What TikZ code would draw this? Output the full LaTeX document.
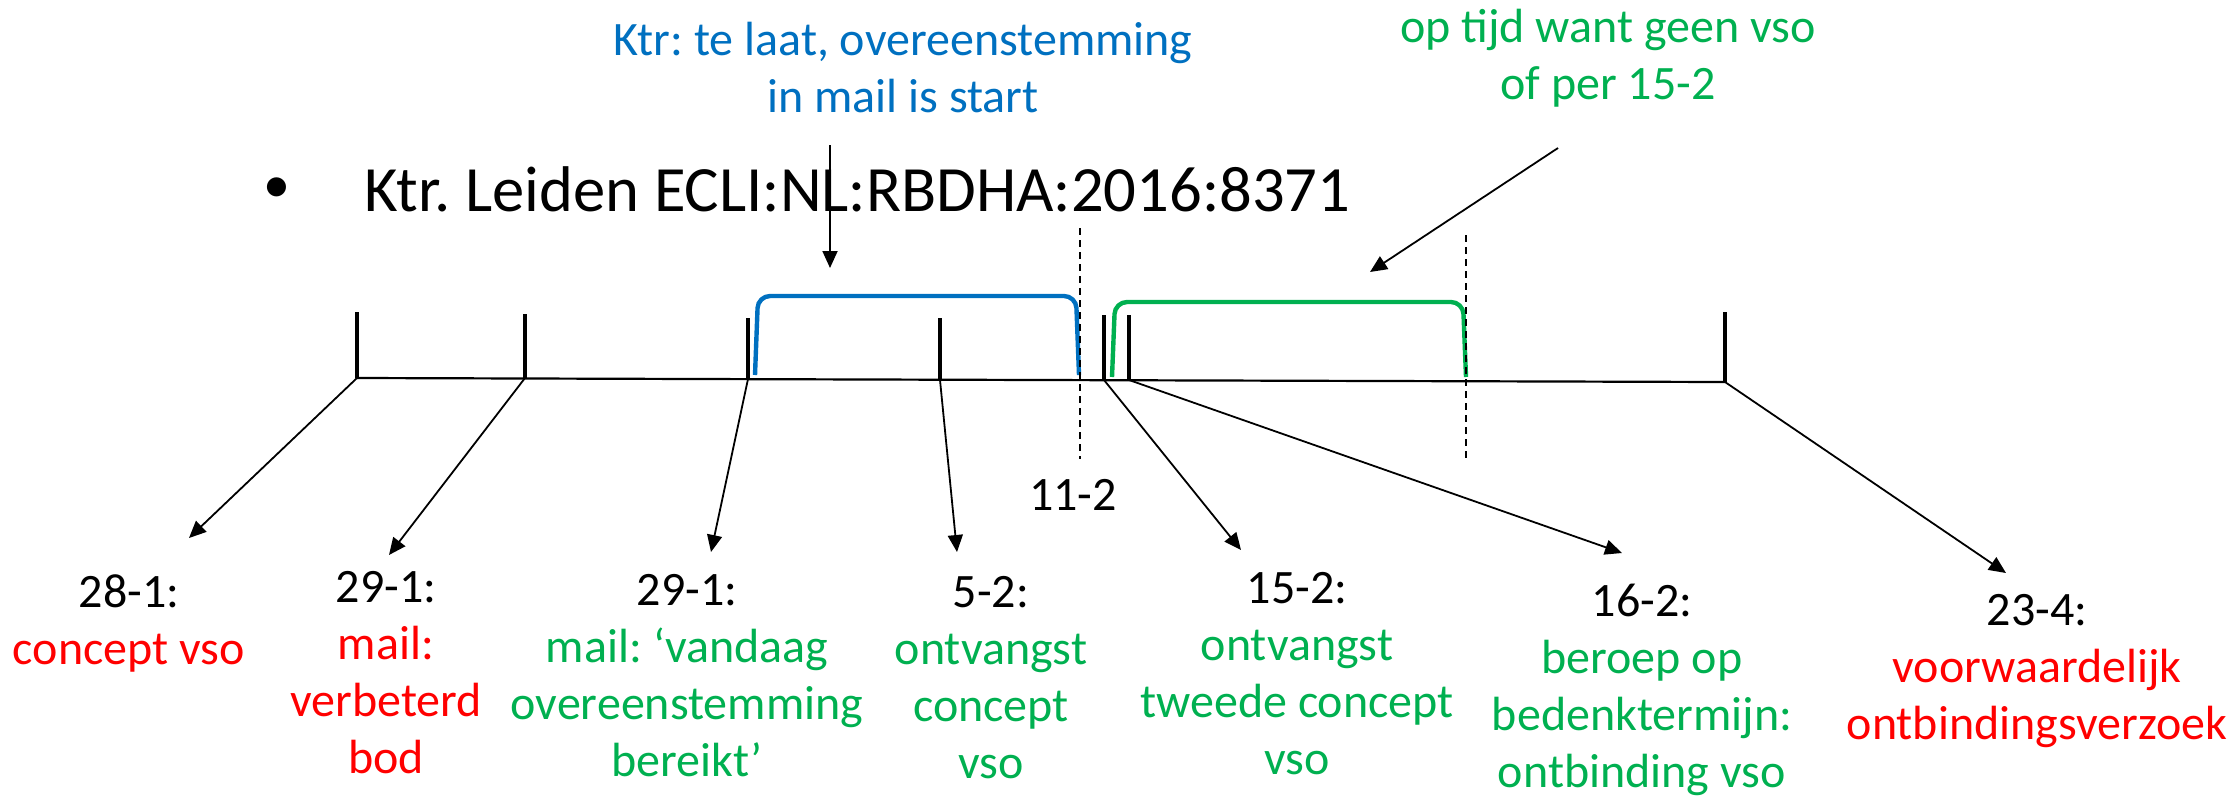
\documentclass[tikz,border=0pt]{standalone}
\usepackage{fontspec}
\setmainfont{Carlito}
\usetikzlibrary{arrows.meta}
\definecolor{cblue}{RGB}{0,112,192}
\definecolor{cgreen}{RGB}{0,176,80}
\definecolor{cred}{RGB}{255,0,0}
\newcommand\stk[1]{\begin{tabular}[t]{@{}c@{}}#1\end{tabular}}
\frenchspacing
\begin{document}
\begin{tikzpicture}[x=0.5pt,y=-0.5pt,
  lbl/.style={anchor=base, inner sep=0pt, font=\fontsize{24}{28.5}\selectfont},
  tickline/.style={line width=2pt, black},
  axis/.style={line width=1.1pt},
  conn/.style={line width=0.9pt, -{Triangle[length=8.5pt,width=7.5pt]}},
  brk/.style={line width=2.2pt, rounded corners=6pt},
  dsh/.style={line width=0.8pt, dash pattern=on 3.5pt off 2.5pt}]
\useasboundingbox (0,0) rectangle (2236,798);

% ticks
\coordinate (t1) at (357,378); \coordinate (u1) at (357,312);
\coordinate (t2) at (525,378); \coordinate (u2) at (525,314);
\coordinate (t3) at (748,379); \coordinate (u3) at (748,318);
\coordinate (t4) at (940,380); \coordinate (u4) at (940,318);
\coordinate (t5) at (1104,380); \coordinate (u5) at (1104,315);
\coordinate (t6) at (1129,380); \coordinate (u6) at (1129,315);
\coordinate (t7) at (1725,382); \coordinate (u7) at (1725,312);

\draw[axis] (t1) -- (t7);
\foreach \i in {1,...,7} \draw[tickline] (t\i) -- (u\i);

% brackets
\coordinate (b1) at (755,375); \coordinate (b2) at (758,296);
\coordinate (b3) at (1076,296); \coordinate (b4) at (1079,375);
\draw[brk, cblue] (b1) -- (b2) -- (b3) -- (b4);
\coordinate (g1) at (1112,377); \coordinate (g2) at (1115,302);
\coordinate (g3) at (1463,302); \coordinate (g4) at (1466,377);
\draw[brk, cgreen] (g1) -- (g2) -- (g3) -- (g4);

% dashed lines
\coordinate (d1a) at (1080,228); \coordinate (d1b) at (1080,459);
\coordinate (d2a) at (1466,235); \coordinate (d2b) at (1466,459);
\draw[dsh] (d1a) -- (d1b);
\draw[dsh] (d2a) -- (d2b);

% heading
\node[anchor=center, inner sep=0pt, font=\fontsize{27}{32}\selectfont] (bul) at (277,190) {•};
\node[anchor=base west, inner sep=0pt, font=\fontsize{32.3}{40}\selectfont] (head) at (364,211) {Ktr. Leiden ECLI:NL:RBDHA:2016:8371};

% comments
\node[lbl, text=cblue] (cb) at (903,55) {\stk{Ktr: te laat, overeenstemming\\in mail is start}};
\node[lbl, text=cgreen] (cg) at (1608,42) {\stk{op tijd want geen vso\\of per 15-2}};
\coordinate (cbs) at (830,145); \coordinate (cbt) at (830,268);
\coordinate (cgs) at (1558,148); \coordinate (cgt) at (1370,272);
\draw[conn] (cbs) -- (cbt);
\draw[conn] (cgs) -- (cgt);

% labels
\node[lbl] (L1) at (129,607) {\stk{28-1:\\\textcolor{cred}{concept vso}}};
\node[lbl] (L2) at (386,602) {\stk{29-1:\\\textcolor{cred}{mail:}\\\textcolor{cred}{verbeterd}\\\textcolor{cred}{bod}}};
\node[lbl] (L3) at (687,605) {\stk{29-1:\\\textcolor{cgreen}{mail: ‘vandaag}\\\textcolor{cgreen}{overeenstemming}\\\textcolor{cgreen}{bereikt’}}};
\node[lbl] (L4) at (991,607) {\stk{5-2:\\\textcolor{cgreen}{ontvangst}\\\textcolor{cgreen}{concept}\\\textcolor{cgreen}{vso}}};
\node[lbl] (L11) at (1073,510) {11-2};
\node[lbl] (L5) at (1297,603) {\stk{15-2:\\\textcolor{cgreen}{ontvangst}\\\textcolor{cgreen}{tweede concept}\\\textcolor{cgreen}{vso}}};
\node[lbl] (L6) at (1642,616) {\stk{16-2:\\\textcolor{cgreen}{beroep op}\\\textcolor{cgreen}{bedenktermijn:}\\\textcolor{cgreen}{ontbinding vso}}};
\node[lbl] (L7) at (2037,625) {\stk{23-4:\\\textcolor{cred}{voorwaardelijk}\\\textcolor{cred}{ontbindingsverzoek}}};

% connectors
\coordinate (a1) at (189,538); \coordinate (a2) at (389,555);
\coordinate (a3) at (711,552); \coordinate (a4) at (957,552);
\coordinate (a5) at (1241,550); \coordinate (a6) at (1622,553);
\coordinate (a7) at (2006,573);
\foreach \i in {1,...,7} \draw[conn] (t\i) -- (a\i);
\end{tikzpicture}
\end{document}
